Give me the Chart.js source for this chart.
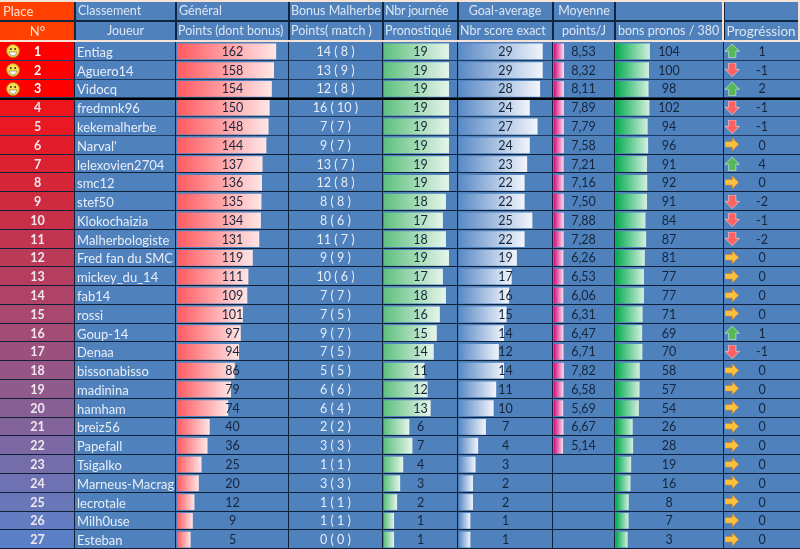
<!DOCTYPE html>
<html>
<head>
<meta charset="utf-8">
<script src="https://cdn.jsdelivr.net/npm/chart.js@4"></script>
<style>
  html, body { margin: 0; padding: 0; background: #fff; }
  #sheet { position: absolute; left: 0; top: 0; width: 800px; height: 549px; background: #4f81bd; overflow: hidden;
           font-family: Lato, sans-serif; font-size: 12.5px; }
  #sheet canvas { position: absolute; }
  .txt { position: absolute; white-space: nowrap; overflow: hidden; line-height: 18px; }
  .line { position: absolute; }
  svg { position: absolute; }
</style>
</head>
<body>
<div id="sheet"></div>
<script>
const players = ['Entiag', 'Aguero14', 'Vidocq', 'fredmnk96', 'kekemalherbe', "Narval'", 'lelexovien2704', 'smc12', 'stef50', 'Klokochaizia', 'Malherbologiste', 'Fred fan du SMC', 'mickey_du_14', 'fab14', 'rossi', 'Goup-14', 'Denaa', 'bissonabisso', 'madinina', 'hamham', 'breiz56', 'Papefall', 'Tsigalko', 'Marneus-Macrage', 'lecrotale', 'Milh0use', 'Esteban'];
const general = [162, 158, 154, 150, 148, 144, 137, 136, 135, 134, 131, 119, 111, 109, 101, 97, 94, 86, 79, 74, 40, 36, 25, 20, 12, 9, 5];
const bonus = ['14 ( 8 )', '13 ( 9 )', '12 ( 8 )', '16 ( 10 )', '7 ( 7 )', '9 ( 7 )', '13 ( 7 )', '12 ( 8 )', '8 ( 8 )', '8 ( 6 )', '11 ( 7 )', '9 ( 9 )', '10 ( 6 )', '7 ( 7 )', '7 ( 5 )', '9 ( 7 )', '7 ( 5 )', '5 ( 5 )', '6 ( 6 )', '6 ( 4 )', '2 ( 2 )', '3 ( 3 )', '1 ( 1 )', '3 ( 3 )', '1 ( 1 )', '1 ( 1 )', '0 ( 0 )'];
const journees = [19, 19, 19, 19, 19, 19, 19, 19, 18, 17, 18, 19, 17, 18, 16, 15, 14, 11, 12, 13, 6, 7, 4, 3, 2, 1, 1];
const scores = [29, 29, 28, 24, 27, 24, 23, 22, 22, 25, 22, 19, 17, 16, 15, 14, 12, 14, 11, 10, 7, 4, 3, 2, 2, 1, 1];
const moyenne = [8.53, 8.32, 8.11, 7.89, 7.79, 7.58, 7.21, 7.16, 7.50, 7.88, 7.28, 6.26, 6.53, 6.06, 6.31, 6.47, 6.71, 7.82, 6.58, 5.69, 6.67, 5.14, null, null, null, null, null];
const pronos = [104, 100, 98, 102, 94, 96, 91, 92, 91, 84, 87, 81, 77, 77, 71, 69, 70, 58, 57, 54, 26, 28, 19, 16, 8, 7, 3];
const progression = [1, -1, 2, -1, -1, 0, 4, 0, -2, -1, -2, 0, 0, 0, 0, 1, -1, 0, 0, 0, 0, 0, 0, 0, 0, 0, 0];

const sheet = document.getElementById('sheet');
const top0 = 42, rowH = 18.78;

function addText(text, x, y, w, align, color, extra) {
  const d = document.createElement('div');
  d.className = 'txt';
  d.textContent = text;
  d.style.cssText = 'left:' + x + 'px;top:' + y + 'px;width:' + w + 'px;text-align:' + align + ';color:' + color + ';' + (extra || '');
  sheet.appendChild(d);
}

function addBox(x, y, w, h, color) {
  const d = document.createElement('div');
  d.className = 'line';
  d.style.cssText = 'left:' + x + 'px;top:' + y + 'px;width:' + w + 'px;height:' + h + 'px;background:' + color;
  sheet.appendChild(d);
}

// one small bar chart per column, the scales are the excel data bar ranges
function barColumn(values, x, w, min, max, from, to) {
  const canvas = document.createElement('canvas');
  canvas.width = w;
  canvas.height = 549 - top0;
  canvas.style.left = x + 'px';
  canvas.style.top = top0 + 'px';
  sheet.appendChild(canvas);
  new Chart(canvas, {
    type: 'bar',
    data: {
      labels: players,
      datasets: [{
        data: values,
        base: min,
        barPercentage: 0.84,
        categoryPercentage: 1,
        backgroundColor: function (c) {
          const v = c.raw;
          if (v === null || v === undefined) return from;
          // gradient runs from the start of the column to the end of this bar
          const g = c.chart.ctx.createLinearGradient(0, 0, w * (v - min) / (max - min), 0);
          g.addColorStop(0, from);
          g.addColorStop(1, to);
          return g;
        }
      }]
    },
    options: {
      indexAxis: 'y',
      responsive: false,
      animation: false,
      layout: { padding: 0 },
      plugins: { legend: { display: false }, tooltip: { enabled: false } },
      scales: {
        x: { display: false, min: min, max: max },
        y: { display: false }
      }
    }
  });
}

barColumn(general, 177, 111, -20, 183.7, '#ff5a60', '#ffe6e6');
barColumn(journees, 384, 72, -2.3, 21.3, '#5fc07f', '#e6f5ea');
barColumn(scores, 459, 93, -3.4, 32.6, '#5a8ac6', '#f2f5fb');
barColumn(moyenne, 554, 60, -25, 175, '#d6107f', '#fbe0ee');
barColumn(pronos, 615.5, 108, -50, 441, '#06ac52', '#d4f0de');

// place column
const cols = [75, 176, 289, 383, 458, 553, 615, 724];
players.forEach(function (p, i) {
  const y = top0 + i * rowH;
  let color = '#ff0000';
  if (i >= 3) {
    const t = (i - 3) / 23;
    color = 'rgb(' + Math.round(238 - 146 * t) + ',' + Math.round(20 + 108 * t) + ',' + Math.round(28 + 172 * t) + ')';
  }
  addBox(0, y, 75, rowH + 0.5, color);
});

// grid
players.forEach(function (p, i) {
  addBox(0, Math.round(top0 + (i + 1) * rowH) - 1, 800, 1, i < 5 ? '#1c3a60' : '#0e2038');
});
cols.forEach(function (x) {
  addBox(x - 1, top0, 1, 507, '#0e2038');
});
addBox(0, 97.5, 800, 2, '#000');

// header
addBox(0, 0, 800, 2, '#f6e3d6');
addBox(0, 2, 75, 38, '#ff4000');
addBox(0, 20, 800, 1.5, '#10253f');
addBox(0, 40, 800, 2, '#f6e3d6');
cols.forEach(function (x) { addBox(x - 1, 2, 1.5, 38, '#10253f'); });
addBox(722, 0, 2, 42, '#f6e3d6');
addBox(798, 0, 2, 42, '#f6e3d6');

const head = '#dce6f2';
addText('Place', 3, 2, 70, 'left', '#ffe0d0', 'font-size:13px');
addText('N°', 0, 22, 75, 'center', '#ffe0d0', 'font-size:13px');
addText('Classement', 78, 2, 95, 'left', head);
addText('Joueur', 75, 22, 101, 'center', head);
addText('Général', 179, 2, 105, 'left', head);
addText('Points (dont bonus)', 178, 22, 110, 'left', head);
addText('Bonus Malherbe', 291, 2, 91, 'left', head);
addText('Points( match )', 291, 22, 91, 'left', head);
addText('Nbr journée', 385, 2, 72, 'left', head, 'letter-spacing:-0.2px');
addText('Pronostiqué', 385, 22, 72, 'left', head);
addText('Goal-average', 458, 2, 94, 'center', head);
addText('Nbr score exact', 460, 22, 92, 'left', head);
addText('Moyenne', 553, 2, 62, 'center', head);
addText('points/J', 553, 22, 62, 'center', head);
addText('bons pronos / 380', 618, 22, 104, 'left', head);
addText('Progréssion', 724, 22, 74, 'center', head, 'font-size:13.5px');

// rows text
const dark = '#15263c', pale = '#e6edf6';
function arrow(kind, cy) {
  const shapes = {
    up: ['8,0 16,8 12,8 12,15 4,15 4,8 0,8', '#58b858', '#d8f0d8'],
    down: ['4,0 12,0 12,7 16,7 8,15 0,7 4,7', '#ff6060', '#ffd8d8'],
    right: ['0,4 8,4 8,0 15,7 8,14 8,10 0,10', '#ffc040', '#e08820']
  };
  const s = shapes[kind];
  const svg = document.createElementNS('http://www.w3.org/2000/svg', 'svg');
  svg.setAttribute('width', 14.5);
  svg.setAttribute('height', 14.5);
  svg.setAttribute('viewBox', '0 0 16 16');
  svg.style.left = '725px';
  svg.style.top = (cy - 7) + 'px';
  const poly = document.createElementNS('http://www.w3.org/2000/svg', 'polygon');
  poly.setAttribute('points', s[0]);
  poly.setAttribute('fill', s[1]);
  poly.setAttribute('stroke', s[2]);
  poly.setAttribute('stroke-width', 0.7);
  svg.appendChild(poly);
  sheet.appendChild(svg);
}

function smiley(cy) {
  const svg = document.createElementNS('http://www.w3.org/2000/svg', 'svg');
  svg.setAttribute('width', 14);
  svg.setAttribute('height', 14);
  svg.style.left = '6px';
  svg.style.top = (cy - 7) + 'px';
  svg.innerHTML = '<circle cx="7" cy="7" r="6.4" fill="#ffe04a" stroke="#a08a10" stroke-width="0.8"/>' +
    '<circle cx="4.8" cy="5" r="1" fill="#333"/><circle cx="9.2" cy="5" r="1" fill="#333"/>' +
    '<path d="M3 8 H11 Q10 12 7 12 Q4 12 3 8 Z" fill="#fff" stroke="#555" stroke-width="0.5"/>';
  sheet.appendChild(svg);
}

players.forEach(function (p, i) {
  const cy = top0 + (i + 0.5) * rowH;
  const ty = cy - 8.5;
  addText(String(i + 1), 0, ty, 75, 'center', i < 3 ? '#fff' : '#f0e8ee', 'font-weight:700');
  if (i < 3) smiley(cy);
  addText(p, 77, ty, 97, 'left', pale, 'font-size:13px');
  addText(String(general[i]), 177, ty, 111, 'center', dark);
  addText(bonus[i], 289, ty, 93, 'center', pale);
  addText(String(journees[i]), 384, ty, 73, 'center', dark);
  addText(String(scores[i]), 459, ty, 93, 'center', dark);
  if (moyenne[i] !== null) addText(moyenne[i].toFixed(2).replace('.', ','), 553, ty, 61, 'center', dark);
  addText(String(pronos[i]), 615, ty, 108, 'center', dark);
  arrow(progression[i] > 0 ? 'up' : progression[i] < 0 ? 'down' : 'right', cy);
  addText(String(progression[i]), 742, ty, 40, 'center', dark);
});
</script>
</body>
</html>
